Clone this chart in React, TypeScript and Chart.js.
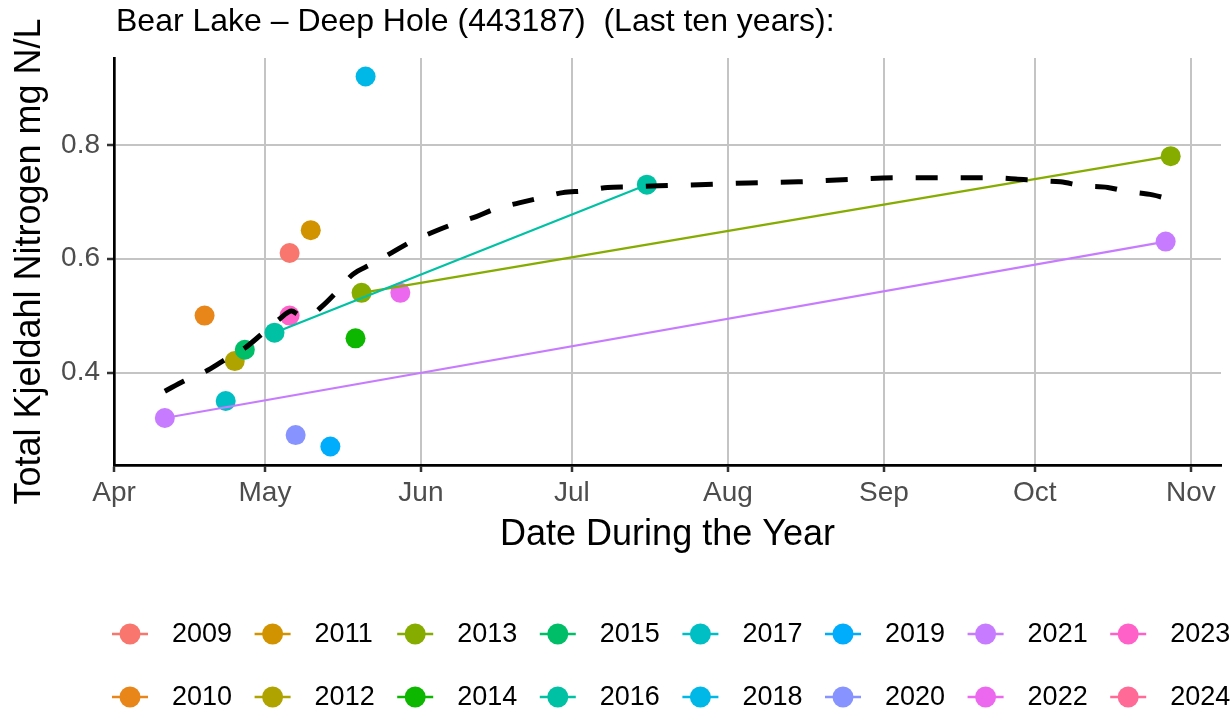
import React, { useEffect, useRef } from 'react';
import { Chart, registerables } from 'chart.js';

Chart.register(...registerables);

const FONT = "'Liberation Sans', Arial, Helvetica, sans-serif";

const chartTitle = 'Bear Lake \u2013 Deep Hole (443187)  (Last ten years):';
const xAxisTitle = 'Date During the Year';
const yAxisTitle = 'Total Kjeldahl Nitrogen mg N/L';

const years = ['2009', '2010', '2011', '2012', '2013', '2014', '2015', '2016', '2017', '2018', '2019', '2020', '2021', '2022', '2023', '2024'];
const yearColors = ['#F8766D', '#E8861A', '#D29300', '#AFA300', '#86AC00', '#0DB700', '#00BE68', '#00C1A4', '#00BFC4', '#00B8E7', '#00ACFC', '#8794FF', '#C77CFF', '#EC69EF', '#FF61C9', '#FF6B96'];

// sample points: year, day of year, TKN (mg N/L)
const pointYear = ['2009', '2010', '2011', '2012', '2013', '2013', '2014', '2015', '2016', '2016', '2017', '2018', '2019', '2020', '2021', '2021', '2022', '2023'];
const pointDay = [125.9, 109.0, 130.1, 115.0, 140.2, 301.0, 139.0, 117.0, 122.9, 196.9, 113.2, 141.0, 134.0, 127.1, 101.1, 300.0, 147.9, 125.9];
const pointValue = [0.61, 0.50, 0.65, 0.42, 0.54, 0.78, 0.46, 0.44, 0.47, 0.73, 0.35, 0.92, 0.27, 0.29, 0.32, 0.63, 0.54, 0.50];

// smoothed trend (loess)
const loessDay = [101.1, 104.9, 109.2, 112.6, 117.0, 120.3, 123.9, 126.3, 127.9, 129.9, 132.2, 135.2, 138.4, 142.1, 146.3, 150.1, 154.2, 158.2, 163.0, 166.9, 171.5, 175.9, 180.2, 184.4, 189.1, 193.3, 199.2, 207.2, 217.1, 227.0, 236.9, 246.8, 256.7, 265.7, 270.2, 274.6, 279.1, 283.5, 288.5, 292.4, 297.4, 300.9];
const loessValue = [0.367, 0.385, 0.402, 0.420, 0.443, 0.467, 0.494, 0.508, 0.501, 0.501, 0.515, 0.541, 0.572, 0.590, 0.611, 0.630, 0.646, 0.660, 0.674, 0.688, 0.698, 0.707, 0.716, 0.719, 0.725, 0.726, 0.728, 0.730, 0.733, 0.735, 0.739, 0.742, 0.742, 0.742, 0.740, 0.737, 0.735, 0.728, 0.725, 0.718, 0.712, 0.704];

const monthTickDays = [91, 121, 152, 182, 213, 244, 274, 305];
const monthLabels = ['Apr', 'May', 'Jun', 'Jul', 'Aug', 'Sep', 'Oct', 'Nov'];
const yTicks = [0.4, 0.6, 0.8];

const xMin = 91;
const xMax = 311;
const yMin = 0.2375;
const yMax = 0.9525;

const overlayPlugin = {
  id: 'overlay',
  afterDraw(chart: any) {
    const ctx = chart.ctx as CanvasRenderingContext2D;
    const area = chart.chartArea;
    ctx.save();
    // title
    ctx.fillStyle = '#000000';
    ctx.font = `32px ${FONT}`;
    ctx.textAlign = 'left';
    ctx.textBaseline = 'alphabetic';
    ctx.fillText(chartTitle, area.left + 2, 31);

    // legend
    const colStep = 142.6;
    years.forEach((yr, i) => {
      const col = Math.floor(i / 2);
      const row = i % 2;
      const textX = 172 + col * colStep;
      const cx = textX - 42;
      const cy = 634 + row * 63;
      ctx.strokeStyle = yearColors[i];
      ctx.lineWidth = 2.5;
      ctx.beginPath();
      ctx.moveTo(cx - 18, cy);
      ctx.lineTo(cx + 18, cy);
      ctx.stroke();
      ctx.fillStyle = yearColors[i];
      ctx.beginPath();
      ctx.arc(cx, cy, 10.5, 0, Math.PI * 2);
      ctx.fill();
      ctx.fillStyle = '#000000';
      ctx.font = `27px ${FONT}`;
      ctx.textBaseline = 'middle';
      ctx.fillText(yr, textX, cy + 1);
    });
    ctx.restore();
  },
};

export default function App() {
  const ref = useRef<HTMLCanvasElement>(null);

  useEffect(() => {
    document.body.style.margin = '0';
    const canvas = ref.current;
    if (!canvas) return;

    const pointSets = years
      .map((yr, i) => {
        const data = pointYear
          .map((py, k) => (py === yr ? { x: pointDay[k], y: pointValue[k] } : null))
          .filter((d) => d !== null) as { x: number; y: number }[];
        return { yr, color: yearColors[i], data };
      })
      .filter((s) => s.data.length > 0);

    const datasets: any[] = [];
    datasets.push({
      label: 'trend',
      data: loessDay.map((d, k) => ({ x: d, y: loessValue[k] })),
      showLine: true,
      borderColor: '#000000',
      borderWidth: 5,
      borderDash: [22, 23],
      borderCapStyle: 'butt',
      pointRadius: 0,
      pointHoverRadius: 0,
      cubicInterpolationMode: 'monotone',
      order: 0,
    });
    pointSets
      .filter((s) => s.data.length > 1)
      .slice()
      .reverse()
      .forEach((s) => {
        datasets.push({
          label: s.yr + ' line',
          data: s.data.slice().sort((a, b) => a.x - b.x),
          showLine: true,
          borderColor: s.color,
          borderWidth: 2.2,
          pointRadius: 0,
          pointHoverRadius: 0,
          order: 1,
        });
      });
    pointSets
      .slice()
      .reverse()
      .forEach((s) => {
        datasets.push({
          label: s.yr,
          data: s.data,
          showLine: false,
          backgroundColor: s.color,
          borderColor: s.color,
          pointRadius: 10,
          pointHoverRadius: 10,
          pointBorderWidth: 0,
          order: 2,
        });
      });

    const chart = new Chart(canvas, {
      type: 'scatter',
      data: { datasets },
      options: {
        animation: false,
        responsive: false,
        devicePixelRatio: 1,
        events: [],
        layout: { padding: { top: 58, right: 7, bottom: 160, left: 0 } },
        plugins: {
          legend: { display: false },
          tooltip: { enabled: false },
          title: { display: false },
        },
        scales: {
          x: {
            type: 'linear',
            min: xMin,
            max: xMax,
            afterBuildTicks: (s: any) => {
              s.ticks = monthTickDays.map((v) => ({ value: v }));
            },
            afterFit: (s: any) => {
              s.height = 90;
            },
            ticks: {
              autoSkip: false,
              maxRotation: 0,
              color: '#4D4D4D',
              padding: 4,
              font: { family: FONT, size: 28 },
              callback: (v: any) => monthLabels[monthTickDays.indexOf(Number(v))],
            },
            grid: {
              color: '#C4C4C4',
              lineWidth: 2,
              tickLength: 7,
              tickColor: '#333333',
              tickWidth: 2.5,
            },
            border: { display: true, color: '#000000', width: 2.7 },
            title: {
              display: true,
              text: xAxisTitle,
              color: '#000000',
              font: { family: FONT, size: 36, lineHeight: 1 },
              padding: { top: 0, bottom: 2 },
            },
          },
          y: {
            type: 'linear',
            position: 'left',
            min: yMin,
            max: yMax,
            afterBuildTicks: (s: any) => {
              s.ticks = yTicks.map((v) => ({ value: v }));
            },
            afterFit: (s: any) => {
              s.width = 114;
            },
            ticks: {
              color: '#4D4D4D',
              padding: 7,
              font: { family: FONT, size: 28 },
              callback: (v: any) => Number(v).toFixed(1),
            },
            grid: {
              color: '#C4C4C4',
              lineWidth: 2,
              tickLength: 7,
              tickColor: '#333333',
              tickWidth: 2.5,
            },
            border: { display: true, color: '#000000', width: 2.7 },
            title: {
              display: true,
              text: yAxisTitle,
              color: '#000000',
              font: { family: FONT, size: 36, lineHeight: 1 },
              padding: { top: 12, bottom: 0 },
            },
          },
        },
      },
      plugins: [overlayPlugin],
    } as any);

    return () => chart.destroy();
  }, []);

  return (
    <div style={{ position: 'absolute', left: 0, top: 0, width: 1231, height: 715 }}>
      <canvas ref={ref} width={1231} height={715} style={{ display: 'block' }} />
    </div>
  );
}
